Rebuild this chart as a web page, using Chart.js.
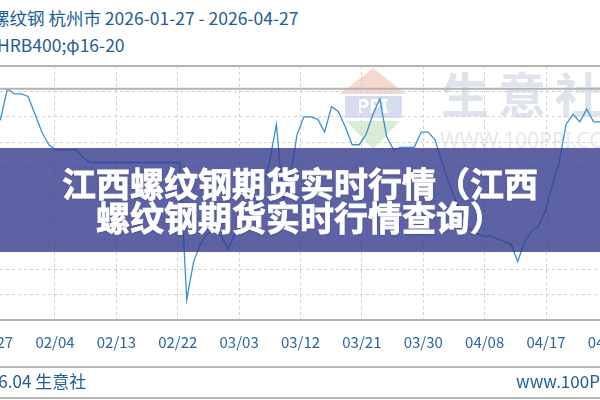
<!DOCTYPE html>
<html>
<head>
<meta charset="utf-8">
<script src="https://cdn.jsdelivr.net/npm/chart.js@4.4.1/dist/chart.umd.min.js"></script>
<style>
  html, body { margin: 0; padding: 0; }
  body {
    width: 600px; height: 400px; overflow: hidden; position: relative;
    background: #fff; font-family: "Noto Sans CJK SC", "Noto Sans", sans-serif;
  }
  .head { position: absolute; white-space: nowrap; color: #225c95; font-size: 17.5px; line-height: 24px; }
  #head1 { left: -8px; top: 6px; }
  #head2 { left: -3px; top: 33px; }
  #chartBox { position: absolute; left: -40px; top: 0; width: 680px; height: 400px; }
  .rule { position: absolute; left: 0; width: 600px; height: 2px; background: #b7b7b7; }
  .foot { position: absolute; top: 369px; white-space: nowrap; color: #225c95; font-size: 17px; line-height: 24px; }
  #footL { left: -30px; }
  #footR { left: 516px; }
  #banner {
    position: absolute; left: 0; top: 148px; width: 600px; height: 104px;
    background: rgba(52, 59, 143, 0.8);
    color: #fff; font-weight: 700; font-size: 34px; line-height: 34px;
    text-align: center; box-sizing: border-box; padding-top: 18px;
    -webkit-text-stroke: 0.8px #fff;
    text-shadow: 0 1px 2px rgba(0,0,0,0.25);
  }
</style>
</head>
<body>
<div class="head" id="head1">螺纹钢 杭州市 2026-01-27 - 2026-04-27</div>
<div class="head" id="head2">HRB400;φ16-20</div>
<div id="chartBox"><canvas id="lineChart" width="680" height="400"></canvas></div>
<div class="rule" style="top:366px"></div>
<div class="rule" style="top:397px"></div>
<div class="foot" id="footL">2026.04 生意社</div>
<div class="foot" id="footR">www.100PPI.com</div>
<div id="banner">
  <div>江西螺纹钢期货实时行情（江西</div>
  <div>螺纹钢期货实时行情查询）</div>
</div>
<script>
"use strict";

// 杭州市 螺纹钢 HRB400 φ16-20, one value per day from 01/27
const prices = [
  3276, 3279, 3291, 3289, 3289, 3288, 3281, 3274, 3269, 3267,
  3267, 3267, 3267, 3264, 3262, 3262, 3262, 3262, 3262, 3262,
  3262, 3262, 3262, 3262, 3262, 3262, 3262, 3262, 3208, 3223,
  3230, 3234, 3235, 3233, 3228, 3234, 3238, 3241, 3245, 3252,
  3262, 3277, 3247, 3256, 3273, 3280, 3280, 3279, 3274, 3284,
  3282, 3276, 3269, 3269, 3273, 3281, 3287, 3272, 3267, 3268,
  3268, 3268, 3274, 3274, 3271, 3262, 3254, 3247, 3241, 3236,
  3234, 3233, 3233, 3232, 3231, 3230, 3223, 3231, 3235, 3237,
  3243, 3253, 3262, 3277, 3281, 3278, 3283, 3278, 3278, 3278
];
const tickLabels = ["01/27", "02/04", "02/13", "02/22", "03/03", "03/12",
  "03/21", "03/30", "04/08", "04/17", "04/26"];
const yMin = 3200;
const yMax = 3300;
const yStep = 10;

const lastDay = prices.length - 1;
const maxPrice = Math.max(...prices);

// background logo + grey max line
const decorPlugin = {
  id: "decor",
  beforeDraw(chart) {
    const c = chart.ctx;
    c.save();
    c.translate(40, 0);
    c.fillStyle = "#f6d8d0";
    c.beginPath();
    c.moveTo(373, 68); c.lineTo(406, 94); c.lineTo(340, 94);
    c.closePath(); c.fill();
    c.fillStyle = "#d5ddef";
    c.fillRect(345, 96, 57, 22);
    c.fillStyle = "#ffffff";
    c.font = "bold 19px 'Noto Sans'";
    c.textAlign = "center";
    c.textBaseline = "middle";
    c.fillText("PPI", 373, 108);
    c.fillStyle = "#d9ecd5";
    c.beginPath();
    c.moveTo(346, 121); c.lineTo(400, 121); c.lineTo(373, 149);
    c.closePath(); c.fill();
    c.fillStyle = "#dfe3ec";
    c.font = "bold 48px 'Noto Sans CJK SC'";
    c.textAlign = "left";
    ["生", "意", "社"].forEach((ch, i) => c.fillText(ch, 441 + i * 57, 95));
    c.fillStyle = "#e6e8ef";
    c.font = "21px 'Noto Sans'";
    c.fillText("WWW.100PPI.COM", 440, 142);
    c.restore();
  },
  afterDatasetsDraw(chart) {
    const { ctx, chartArea } = chart;
    const y = chart.scales.y.getPixelForValue(maxPrice);
    ctx.save();
    ctx.strokeStyle = "#b3b3b3";
    ctx.lineWidth = 2;
    ctx.beginPath();
    ctx.moveTo(chartArea.left, y);
    ctx.lineTo(chartArea.right, y);
    ctx.stroke();
    ctx.restore();
  },
};

const ctx = document.getElementById("lineChart");
new Chart(ctx, {
  type: "line",
  data: {
    datasets: [
      {
        data: prices.map((v, i) => ({ x: i, y: v })),
        borderColor: "#3b8fd2",
        borderWidth: 1.3,
        pointRadius: 0,
        tension: 0,
        fill: false,
      },
    ],
  },
  options: {
    responsive: false,
    animation: false,
    layout: { padding: { left: 33.6, right: 32.4, top: 66, bottom: 40 } },
    plugins: { legend: { display: false }, tooltip: { enabled: false } },
    scales: {
      x: {
        type: "linear",
        min: 0,
        max: lastDay,
        afterBuildTicks: (scale) => {
          scale.ticks = tickLabels.map((t, i) => ({
            value: (i * lastDay) / (tickLabels.length - 1),
          }));
        },
        afterFit: (scale) => { scale.height = 40; },
        ticks: {
          autoSkip: false,
          maxRotation: 0,
          padding: 13,
          color: "#2b64a0",
          font: { family: "'Noto Sans CJK SC'", size: 15 },
          callback: (v, i) => tickLabels[i],
        },
        grid: { color: "#d0d0d0", lineWidth: 1, drawTicks: false },
        border: { display: true, color: "#b3b3b3", width: 2, dash: () => [3, 3] },
      },
      y: {
        min: yMin,
        max: yMax,
        afterFit: (scale) => { scale.width = 0; },
        ticks: { display: false, stepSize: yStep },
        grid: {
          drawTicks: false,
          color: (c) => (c.tick && c.tick.value === yMax ? "#b3b3b3" : "#d0d0d0"),
          lineWidth: (c) => (c.tick && c.tick.value === yMax ? 2 : 1),
        },
        border: {
          display: false,
          dash: (c) => (c.tick && (c.tick.value === yMax || c.tick.value === yMin) ? [] : [3, 3]),
        },
      },
    },
  },
  plugins: [decorPlugin],
});
</script>
</body>
</html>
